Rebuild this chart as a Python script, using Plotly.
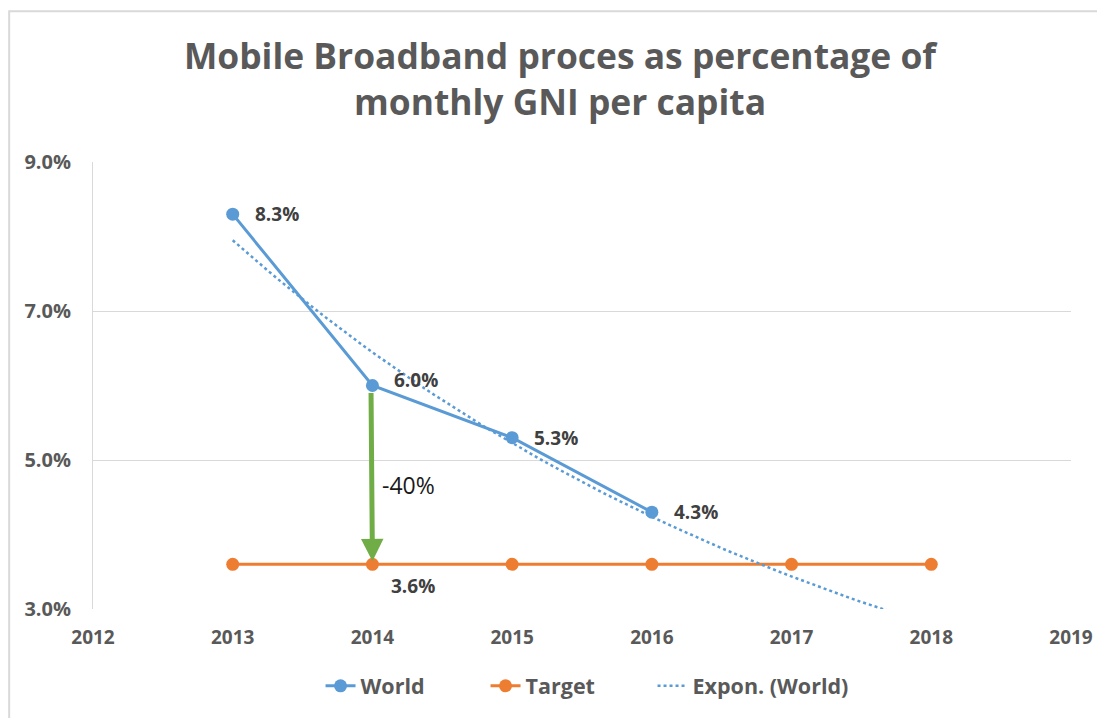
import numpy as np
import plotly.graph_objects as go

years = [2013, 2014, 2015, 2016]
world = [0.083, 0.060, 0.053, 0.043]
target_years = [2013, 2014, 2015, 2016, 2017, 2018]
target = [0.036, 0.036, 0.036, 0.036, 0.036, 0.036]
world_labels = ["8.3%", "6.0%", "5.3%", "4.3%"]
target_label = "3.6%"
y_ticks = [0.03, 0.05, 0.07, 0.09]
x_ticks = [2012, 2013, 2014, 2015, 2016, 2017, 2018, 2019]

# Excel-style exponential trendline fitted to World, forecast forward
idx = np.arange(1, len(world) + 1)
b, a = np.polyfit(idx, np.log(world), 1)
t_idx = np.linspace(1, len(world) + 2, 60)
trend_x = years[0] + (t_idx - 1)
trend_y = np.exp(a + b * t_idx)

BLUE = "#5B9BD5"
ORANGE = "#ED7D31"
GREEN = "#70AD47"
GRID = "#D9D9D9"
TXT = "#595959"
LBL = "#404040"
FONT = "Open Sans"

W, H = 1097, 710
L, R, T, B = 85, 32, 154, 108
PW, PH = W - L - R, H - T - B

fig = go.Figure()
fig.add_trace(go.Scatter(x=years, y=world, name="World", mode="lines+markers",
                         line=dict(color=BLUE, width=3),
                         marker=dict(size=13, color=BLUE), legendwidth=120))
fig.add_trace(go.Scatter(x=target_years, y=target, name="Target", mode="lines+markers",
                         line=dict(color=ORANGE, width=3),
                         marker=dict(size=13, color=ORANGE), legendwidth=122))
fig.add_trace(go.Scatter(x=trend_x, y=trend_y, name="Expon. (World)", mode="lines",
                         line=dict(color=BLUE, width=2.5, dash="dot"), legendwidth=160))

ann = []
offsets = [(20, 0), (20, 6), (20, 0), (20, 0)]
for xv, yv, t, (dx, dy) in zip(years, world, world_labels, offsets):
    ann.append(dict(x=xv, y=yv, text=t, showarrow=False, xanchor="left",
                    xshift=dx, yshift=dy,
                    font=dict(family=FONT, size=19, color=LBL, weight="bold")))
ann.append(dict(x=target_years[1], y=target[1], text=target_label, showarrow=False,
                xanchor="left", xshift=17, yshift=-22,
                font=dict(family=FONT, size=19, color=LBL, weight="bold")))
# green arrow showing the gap
ann.append(dict(x=2014, y=0.0364, ax=2013.99, ay=0.0592, xref="x", yref="y",
                axref="x", ayref="y", text="", showarrow=True,
                arrowhead=2, arrowsize=0.9, arrowwidth=5, arrowcolor=GREEN))
ann.append(dict(x=2014.26, y=0.0466, text="-40%", showarrow=False,
                font=dict(family=FONT, size=23, color="#1a1a1a")))

fig.update_layout(
    width=W, height=H,
    margin=dict(l=L, r=R, t=T, b=B),
    paper_bgcolor="white", plot_bgcolor="white",
    title=dict(text="Mobile Broadband proces as percentage of<br>monthly GNI per capita",
               x=(560 - 8) / W, xanchor="center", y=1 - 61 / H, yanchor="middle",
               font=dict(family=FONT, size=35.4, color=TXT, weight="bold")),
    xaxis=dict(range=[2012, 2019], tickvals=x_ticks, showgrid=False, zeroline=False,
               showline=False, ticks="",
               tickfont=dict(family=FONT, size=19, color=TXT, weight="bold")),
    yaxis=dict(range=[0.03, 0.09], tickvals=y_ticks, tickformat=".1%",
               showgrid=True, gridcolor=GRID, gridwidth=1, zeroline=False,
               showline=True, linecolor=GRID, linewidth=1, ticks="", ticklen=0,
               tickfont=dict(family=FONT, size=20, color=TXT, weight="bold")),
    legend=dict(orientation="h", x=(321 - 8 - L) / PW, xanchor="left",
                y=-77 / PH, yanchor="middle",
                font=dict(family=FONT, size=21.5, color=TXT, weight="bold"),
                traceorder="normal"),
    annotations=ann,
    shapes=[dict(type="rect", xref="paper", yref="paper",
                 x0=(1 - L) / PW, x1=(W + 20 - L) / PW,
                 y0=1 + (T - 3) / PH, y1=-(B + 20) / PH,
                 line=dict(color=GRID, width=2), layer="below")],
    showlegend=True,
)
fig.update_xaxes(ticklabelstandoff=15)
fig.update_yaxes(ticklabelstandoff=17)

fig.write_html("out.html")
